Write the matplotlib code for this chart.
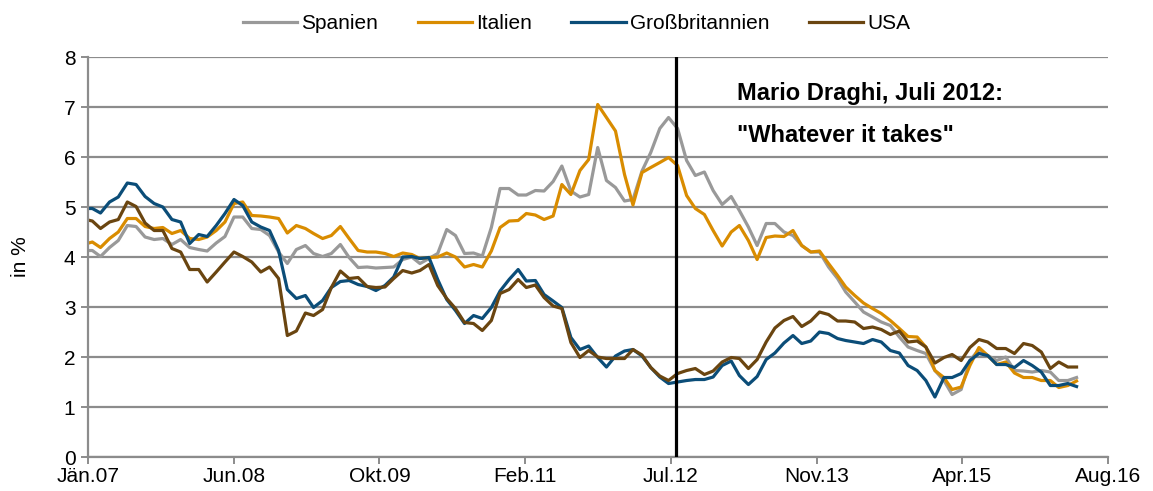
import matplotlib
matplotlib.use("Agg")
import matplotlib.pyplot as plt
import pandas as pd
import numpy as np

plt.rcParams["font.family"] = ["Liberation Sans", "DejaVu Sans"]

# monthly 10y yields in %, Jan 2007 .. May 2016
spanien = [4.13,
    4.13, 4.01, 4.19, 4.33, 4.63, 4.61, 4.40, 4.35, 4.37, 4.25, 4.35, 4.19, 4.15, 4.12, 4.28, 4.41, 4.80, 4.80, 4.57, 4.55, 4.43, 4.10,
    3.87, 4.15, 4.23, 4.07, 4.01, 4.07, 4.25, 3.99, 3.79, 3.80, 3.78, 3.79, 3.80, 3.95, 4.00, 3.87, 3.97, 4.07, 4.55, 4.43, 4.07, 4.08,
    4.02, 4.59, 5.37, 5.37, 5.24, 5.24, 5.33, 5.32, 5.51, 5.82, 5.32, 5.20, 5.25, 6.19, 5.53, 5.39, 5.12, 5.15, 5.72, 6.09, 6.57, 6.79,
    6.57, 5.93, 5.63, 5.70, 5.33, 5.05, 5.21, 4.93, 4.60, 4.23, 4.67, 4.67, 4.50, 4.43, 4.23, 4.10, 4.10, 3.80, 3.57, 3.30, 3.10, 2.90,
    2.80, 2.70, 2.63, 2.40, 2.20, 2.13, 2.07, 1.73, 1.53, 1.25, 1.35, 1.93, 2.15, 2.03, 1.93, 2.00, 1.73, 1.72, 1.70, 1.73, 1.70, 1.53, 1.53, 1.59]
italien = [4.25,
    4.30, 4.19, 4.37, 4.50, 4.77, 4.77, 4.61, 4.57, 4.59, 4.47, 4.53, 4.37, 4.35, 4.40, 4.53, 4.70, 5.07, 5.10, 4.83, 4.82, 4.80, 4.77,
    4.48, 4.63, 4.57, 4.47, 4.37, 4.43, 4.61, 4.37, 4.13, 4.10, 4.10, 4.07, 4.01, 4.08, 4.05, 3.97, 3.99, 4.00, 4.08, 4.00, 3.80, 3.85,
    3.80, 4.12, 4.59, 4.72, 4.73, 4.87, 4.84, 4.75, 4.82, 5.45, 5.25, 5.73, 5.95, 7.05, 6.79, 6.52, 5.65, 5.04, 5.69, 5.79, 5.89, 5.99,
    5.83, 5.23, 4.97, 4.85, 4.53, 4.22, 4.50, 4.63, 4.33, 3.95, 4.39, 4.42, 4.41, 4.53, 4.23, 4.10, 4.12, 3.87, 3.63, 3.40, 3.23, 3.08,
    2.97, 2.87, 2.73, 2.57, 2.41, 2.40, 2.20, 1.73, 1.59, 1.35, 1.40, 1.83, 2.19, 2.03, 1.85, 1.90, 1.68, 1.59, 1.59, 1.53, 1.53, 1.39, 1.43, 1.52]
gb = [4.97,
    4.97, 4.88, 5.10, 5.20, 5.48, 5.45, 5.21, 5.07, 5.00, 4.75, 4.70, 4.27, 4.45, 4.41, 4.63, 4.87, 5.15, 5.03, 4.70, 4.60, 4.53, 4.13,
    3.35, 3.17, 3.23, 2.99, 3.13, 3.39, 3.51, 3.53, 3.45, 3.41, 3.33, 3.43, 3.60, 4.00, 4.01, 3.97, 3.99, 3.55, 3.15, 2.93, 2.67, 2.83,
    2.77, 2.99, 3.32, 3.55, 3.75, 3.52, 3.53, 3.25, 3.12, 2.99, 2.39, 2.15, 2.22, 1.99, 1.80, 2.02, 2.12, 2.15, 2.02, 1.79, 1.60, 1.47,
    1.50, 1.53, 1.55, 1.55, 1.60, 1.83, 1.92, 1.63, 1.45, 1.61, 1.95, 2.08, 2.28, 2.43, 2.27, 2.32, 2.50, 2.47, 2.37, 2.33, 2.30, 2.27,
    2.35, 2.30, 2.13, 2.08, 1.83, 1.73, 1.53, 1.20, 1.59, 1.59, 1.67, 1.93, 2.07, 2.03, 1.85, 1.85, 1.79, 1.93, 1.83, 1.70, 1.43, 1.43, 1.47, 1.41]
usa = [4.76,
    4.72, 4.57, 4.70, 4.75, 5.10, 5.01, 4.68, 4.53, 4.53, 4.17, 4.10, 3.75, 3.75, 3.50, 3.70, 3.90, 4.10, 4.01, 3.90, 3.70, 3.80, 3.57,
    2.43, 2.52, 2.88, 2.83, 2.95, 3.39, 3.72, 3.57, 3.59, 3.41, 3.39, 3.40, 3.57, 3.73, 3.68, 3.73, 3.85, 3.43, 3.17, 2.97, 2.69, 2.67,
    2.53, 2.73, 3.27, 3.35, 3.55, 3.39, 3.44, 3.19, 3.02, 2.97, 2.29, 1.99, 2.13, 2.00, 1.97, 1.97, 1.97, 2.15, 2.04, 1.79, 1.62, 1.53,
    1.67, 1.73, 1.77, 1.65, 1.72, 1.90, 1.99, 1.97, 1.77, 1.95, 2.30, 2.58, 2.73, 2.81, 2.61, 2.72, 2.90, 2.85, 2.72, 2.72, 2.70, 2.57,
    2.60, 2.55, 2.45, 2.52, 2.30, 2.32, 2.20, 1.88, 1.99, 2.05, 1.93, 2.19, 2.35, 2.30, 2.17, 2.17, 2.07, 2.27, 2.23, 2.10, 1.77, 1.90, 1.80, 1.80]

dates = pd.date_range("2007-01-01", periods=len(usa), freq="MS")
tick_labels = ["Jän.07", "Jun.08", "Okt.09", "Feb.11", "Jul.12", "Nov.13", "Apr.15", "Aug.16"]
axis_start = pd.Timestamp("2007-01-17")
tick_dates = [axis_start + pd.Timedelta(days=500 * i) for i in range(len(tick_labels))]

grid_col = "#8c8c8c"

fig = plt.figure(figsize=(11.53, 4.91), dpi=100)
ax = fig.add_axes([0.0763, 0.0692, 0.8847, 0.8147])

ax.plot(dates, spanien, color="#999999", lw=2.3, label="Spanien")
ax.plot(dates, italien, color="#d98c00", lw=2.3, label="Italien")
ax.plot(dates, gb, color="#0b4d78", lw=2.3, label="Großbritannien")
ax.plot(dates, usa, color="#6a4510", lw=2.3, label="USA")

ax.axvline(pd.Timestamp("2012-07-26"), color="black", lw=2.3, zorder=5)
ax.text(pd.Timestamp("2013-02-21"), 7.14, "Mario Draghi, Juli 2012:", fontsize=17, fontweight="bold", va="baseline")
ax.text(pd.Timestamp("2013-02-21"), 6.31, "\"Whatever it takes\"", fontsize=17, fontweight="bold", va="baseline")

ax.set_xlim(tick_dates[0], tick_dates[-1])
ax.set_ylim(0, 8)
ax.set_yticks(range(0, 9))
ax.set_xticks(tick_dates)
ax.set_xticklabels(tick_labels)
ax.yaxis.grid(True, color=grid_col, lw=1.6)
ax.set_axisbelow(True)
for s in ["top", "right"]:
    ax.spines[s].set_visible(False)
for s in ["left", "bottom"]:
    ax.spines[s].set_color(grid_col)
    ax.spines[s].set_linewidth(1.6)
ax.tick_params(axis="both", colors=grid_col, width=1.4, length=5, labelsize=15, labelcolor="black")
ax.tick_params(axis="x", pad=2)
ax.tick_params(axis="y", pad=4)
ax.set_ylabel("in %", fontsize=15, labelpad=24)

fig.legend(loc="upper center", bbox_to_anchor=(0.5, 1.01), ncol=4, frameon=False,
           fontsize=15, handlelength=2.6, columnspacing=1.9, handletextpad=0.2)

fig.savefig("out.png", dpi=100)
